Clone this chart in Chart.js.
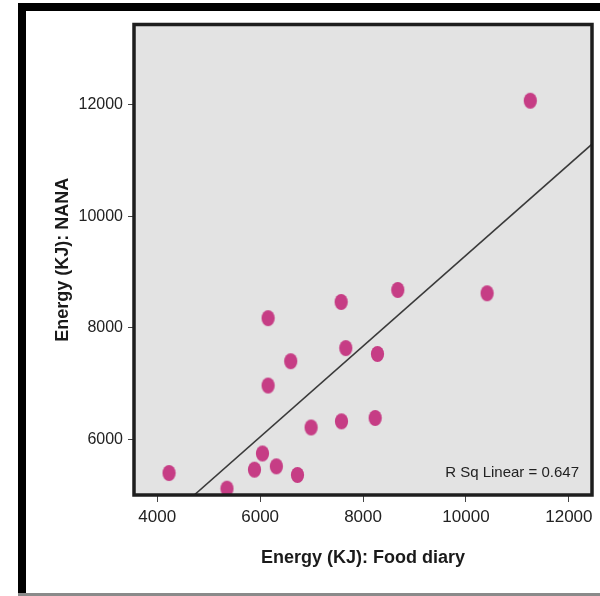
<!DOCTYPE html>
<html>
<head>
<meta charset="utf-8">
<script src="https://cdn.jsdelivr.net/npm/chart.js@4/dist/chart.umd.min.js"></script>
<style>
  html, body { margin: 0; padding: 0; background: #ffffff; }
  #wrap { width: 600px; height: 596px; }
</style>
</head>
<body>
<div id="wrap"><canvas id="scatter"></canvas></div>
<script>
// data: energy intake, food diary (x) vs NANA (y), KJ
const foodDiary = [4230, 5355, 5890, 6045, 6315, 6725, 6990, 7580, 8235, 6155, 6595, 6155, 7665, 8280, 7575, 8675, 11250, 10410];
const nana      = [5405, 5125, 5465, 5755, 5525, 5370, 6220, 6330, 6390, 6970, 7405, 8175, 7640, 7535, 8465, 8680, 12065, 8620];

// fitted line (as drawn) and its label
const fitIntercept = 1180;
const fitSlope = 0.812;
const rSqLabel = "R Sq Linear = 0.647";

const xTicks = [4000, 6000, 8000, 10000, 12000];
const yTicks = [6000, 8000, 10000, 12000];
const xRange = [3549, 12449];
const yRange = [5012, 13428];

const POINT_COLOR = "#c63d85";
const BG_GREY = "#e3e3e3";

// ellipse marker, a bit taller than wide like the original
function ellipseMarker() {
  const c = document.createElement("canvas");
  c.width = 15;
  c.height = 18;
  const g = c.getContext("2d");
  g.fillStyle = POINT_COLOR;
  g.beginPath();
  g.ellipse(7.5, 9, 6.6, 8, 0, 0, Math.PI * 2);
  g.fill();
  return c;
}

const points = foodDiary.map((x, i) => ({ x: x, y: nana[i] }));
const fitStartX = (yRange[0] - fitIntercept) / fitSlope;
const fitLine = [fitStartX, xRange[1]].map((x) => ({ x: x, y: fitIntercept + fitSlope * x }));

const framePlugin = {
  id: "frames",
  beforeDraw(chart) {
    const ctx = chart.ctx;
    const a = chart.chartArea;
    ctx.save();
    // outer picture frame (open on the right)
    ctx.fillStyle = "#000000";
    ctx.fillRect(18, 3, 600 - 18, 8);
    ctx.fillRect(18, 3, 8, 591);
    ctx.fillStyle = "#8a8a8a";
    ctx.fillRect(18, 593, 600 - 18, 3);
    // plot background
    ctx.fillStyle = BG_GREY;
    ctx.fillRect(a.left, a.top, a.right - a.left, a.bottom - a.top);
    ctx.restore();
  },
  afterDatasetsDraw(chart) {
    const ctx = chart.ctx;
    const a = chart.chartArea;
    ctx.save();
    ctx.strokeStyle = "#1e1e1e";
    ctx.lineWidth = 3.5;
    ctx.strokeRect(a.left, a.top, a.right - a.left, a.bottom - a.top);
    ctx.fillStyle = "#222222";
    ctx.font = "15px 'Liberation Sans Narrow', 'Liberation Sans', Arial, sans-serif";
    ctx.textAlign = "right";
    ctx.textBaseline = "middle";
    ctx.fillText(rSqLabel, a.right - 13, a.bottom - 22);
    ctx.restore();
  },
};

const plainNumber = (v) => String(v);

new Chart(document.getElementById("scatter"), {
  type: "scatter",
  data: {
    datasets: [
      {
        label: "fit",
        type: "line",
        data: fitLine,
        borderColor: "#3a3a3a",
        borderWidth: 1.6,
        pointRadius: 0,
        fill: false,
        order: 2,
      },
      {
        label: "Energy",
        data: points,
        pointStyle: ellipseMarker(),
        pointRadius: 7,
        order: 1,
      },
    ],
  },
  options: {
    responsive: true,
    maintainAspectRatio: false,
    animation: false,
    events: [],
    layout: { padding: { left: 30, right: 6.5, top: 24.5, bottom: 8 } },
    plugins: {
      legend: { display: false },
      tooltip: { enabled: false },
    },
    scales: {
      x: {
        type: "linear",
        min: xRange[0],
        max: xRange[1],
        afterBuildTicks(scale) {
          scale.ticks = xTicks.map((v) => ({ value: v }));
        },
        afterFit(scale) {
          scale.height = 93;
        },
        border: { display: false },
        grid: {
          drawOnChartArea: false,
          drawTicks: true,
          tickLength: 7,
          color: "#444444",
          lineWidth: 1,
        },
        ticks: {
          color: "#222222",
          padding: 5,
          maxRotation: 0,
          callback: plainNumber,
          font: { family: "'Liberation Sans', Arial, sans-serif", size: 17 },
        },
        title: {
          display: true,
          text: "Energy (KJ): Food diary",
          color: "#1a1a1a",
          font: { family: "'Liberation Sans', Arial, sans-serif", size: 18, weight: "bold" },
          padding: { top: 0, bottom: 19 },
        },
      },
      y: {
        type: "linear",
        min: yRange[0],
        max: yRange[1],
        afterBuildTicks(scale) {
          scale.ticks = yTicks.map((v) => ({ value: v }));
        },
        afterFit(scale) {
          scale.width = 104;
        },
        border: { display: false },
        grid: {
          drawOnChartArea: false,
          drawTicks: true,
          tickLength: 6,
          color: "#444444",
          lineWidth: 1,
        },
        ticks: {
          color: "#222222",
          padding: 5,
          callback: plainNumber,
          font: { family: "'Liberation Sans', Arial, sans-serif", size: 16 },
        },
        title: {
          display: true,
          text: "Energy (KJ): NANA",
          color: "#1a1a1a",
          font: { family: "'Liberation Sans', Arial, sans-serif", size: 18, weight: "bold" },
          padding: { top: 22, bottom: 0 },
        },
      },
    },
  },
  plugins: [framePlugin],
});
</script>
</body>
</html>
